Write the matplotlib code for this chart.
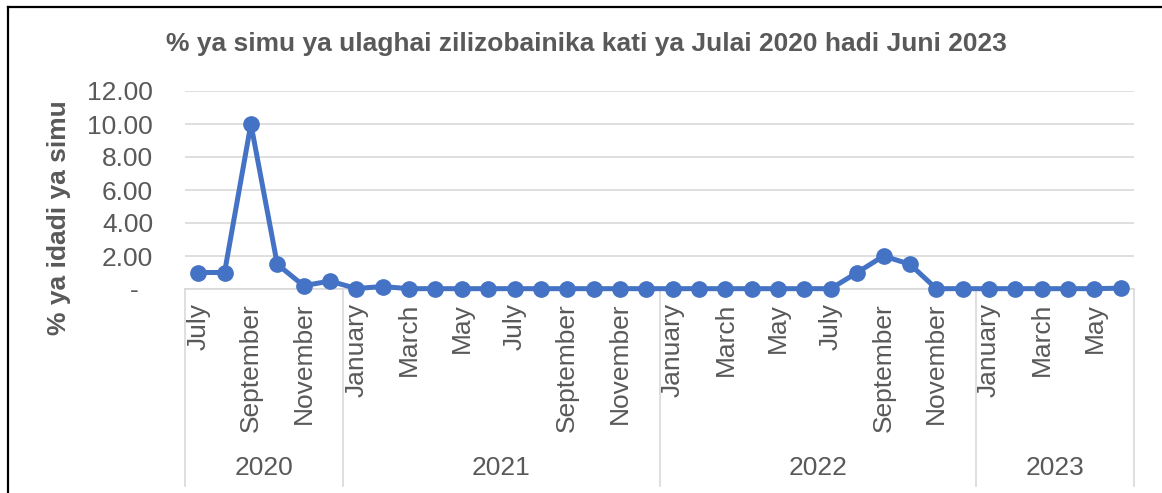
import matplotlib

matplotlib.use("Agg")

import matplotlib.pyplot as plt
import numpy as np
from matplotlib.lines import Line2D
from matplotlib.transforms import blended_transform_factory

plt.rcParams["font.family"] = ["Liberation Sans", "DejaVu Sans"]

# monthly share of fraud calls detected, July 2020 .. June 2023
months = [
    "July", "August", "September", "October", "November", "December",
    "January", "February", "March", "April", "May", "June",
    "July", "August", "September", "October", "November", "December",
    "January", "February", "March", "April", "May", "June",
    "July", "August", "September", "October", "November", "December",
    "January", "February", "March", "April", "May", "June",
]
values = [
    1.0, 1.0, 10.0, 1.5, 0.2, 0.48,
    0.03, 0.15, 0.02, 0.02, 0.02, 0.02, 0.02, 0.02, 0.02, 0.02, 0.02, 0.02,
    0.02, 0.02, 0.02, 0.02, 0.02, 0.02, 0.02, 1.0, 2.0, 1.5, 0.02, 0.02,
    0.02, 0.02, 0.02, 0.02, 0.02, 0.05,
]
years = ["2020", "2021", "2022", "2023"]
year_counts = [6, 12, 12, 6]
y_ticks = [0, 2, 4, 6, 8, 10, 12]
y_tick_labels = ["-  ", "2.00", "4.00", "6.00", "8.00", "10.00", "12.00"]

title = "% ya simu ya ulaghai zilizobainika kati ya Julai 2020 hadi Juni 2023"
ylabel = "% ya idadi ya simu"

text_grey = "#595959"
grid_grey = "#d9d9d9"
line_blue = "#4472c4"
tick_size = 19

W, H = 1162, 493
fig = plt.figure(figsize=(W / 100, H / 100), dpi=100)
fig.patch.set_facecolor("white")
ax = fig.add_axes([185 / W, 1 - 289 / H, (1134 - 185) / W, (289 - 91) / H])

x = np.arange(len(values))
ax.plot(x, values, color=line_blue, linewidth=3.6, marker="o",
        markersize=11, solid_capstyle="round", zorder=3, clip_on=False)

ax.set_xlim(-0.5, len(values) - 0.5)
ax.set_ylim(0, 12)
ax.set_yticks(y_ticks)
ax.set_yticklabels(y_tick_labels, fontsize=tick_size, color=text_grey)
ax.tick_params(axis="y", length=0, pad=23)
ax.set_xticks([])
ax.grid(axis="y", color=grid_grey, linewidth=1.2)
ax.set_axisbelow(True)
for side in ("top", "right", "left"):
    ax.spines[side].set_visible(False)
ax.spines["bottom"].set_color(grid_grey)
ax.spines["bottom"].set_linewidth(1.2)

# two-level category axis: months (every other one) and years
trans = blended_transform_factory(ax.transData, fig.transFigure)
for i, name in enumerate(months):
    if i % 2 == 0:
        ax.text(i, 1 - 303 / H, name, rotation=90, ha="center", va="top",
                fontsize=tick_size, color=text_grey, transform=trans)

start = -0.5
bounds = [start]
for year, n in zip(years, year_counts):
    ax.text(start + n / 2, 1 - 468 / H, year, ha="center", va="center",
            fontsize=tick_size, color=text_grey, transform=trans)
    start += n
    bounds.append(start)
for b in bounds:
    ax.add_line(Line2D([b, b], [1 - 289 / H, 1 - 486 / H], transform=trans,
                       color=grid_grey, linewidth=1.2, clip_on=False))

fig.text(586 / W, 1 - 44 / H, title, ha="center", va="center",
         fontsize=19, fontweight="bold", color=text_grey)
fig.text(59 / W, 1 - 218 / H, ylabel, ha="center", va="center",
         rotation=90, fontsize=19, fontweight="bold", color=text_grey)

# outer chart frame (only left and top edges are visible in the crop)
fig.add_artist(Line2D([8 / W, 8 / W], [0, 1 - 7 / H], transform=fig.transFigure,
                      color="black", linewidth=1.6))
fig.add_artist(Line2D([8 / W, 1], [1 - 7 / H, 1 - 7 / H], transform=fig.transFigure,
                      color="black", linewidth=1.6))

fig.savefig("out.png", dpi=100, facecolor="white")
